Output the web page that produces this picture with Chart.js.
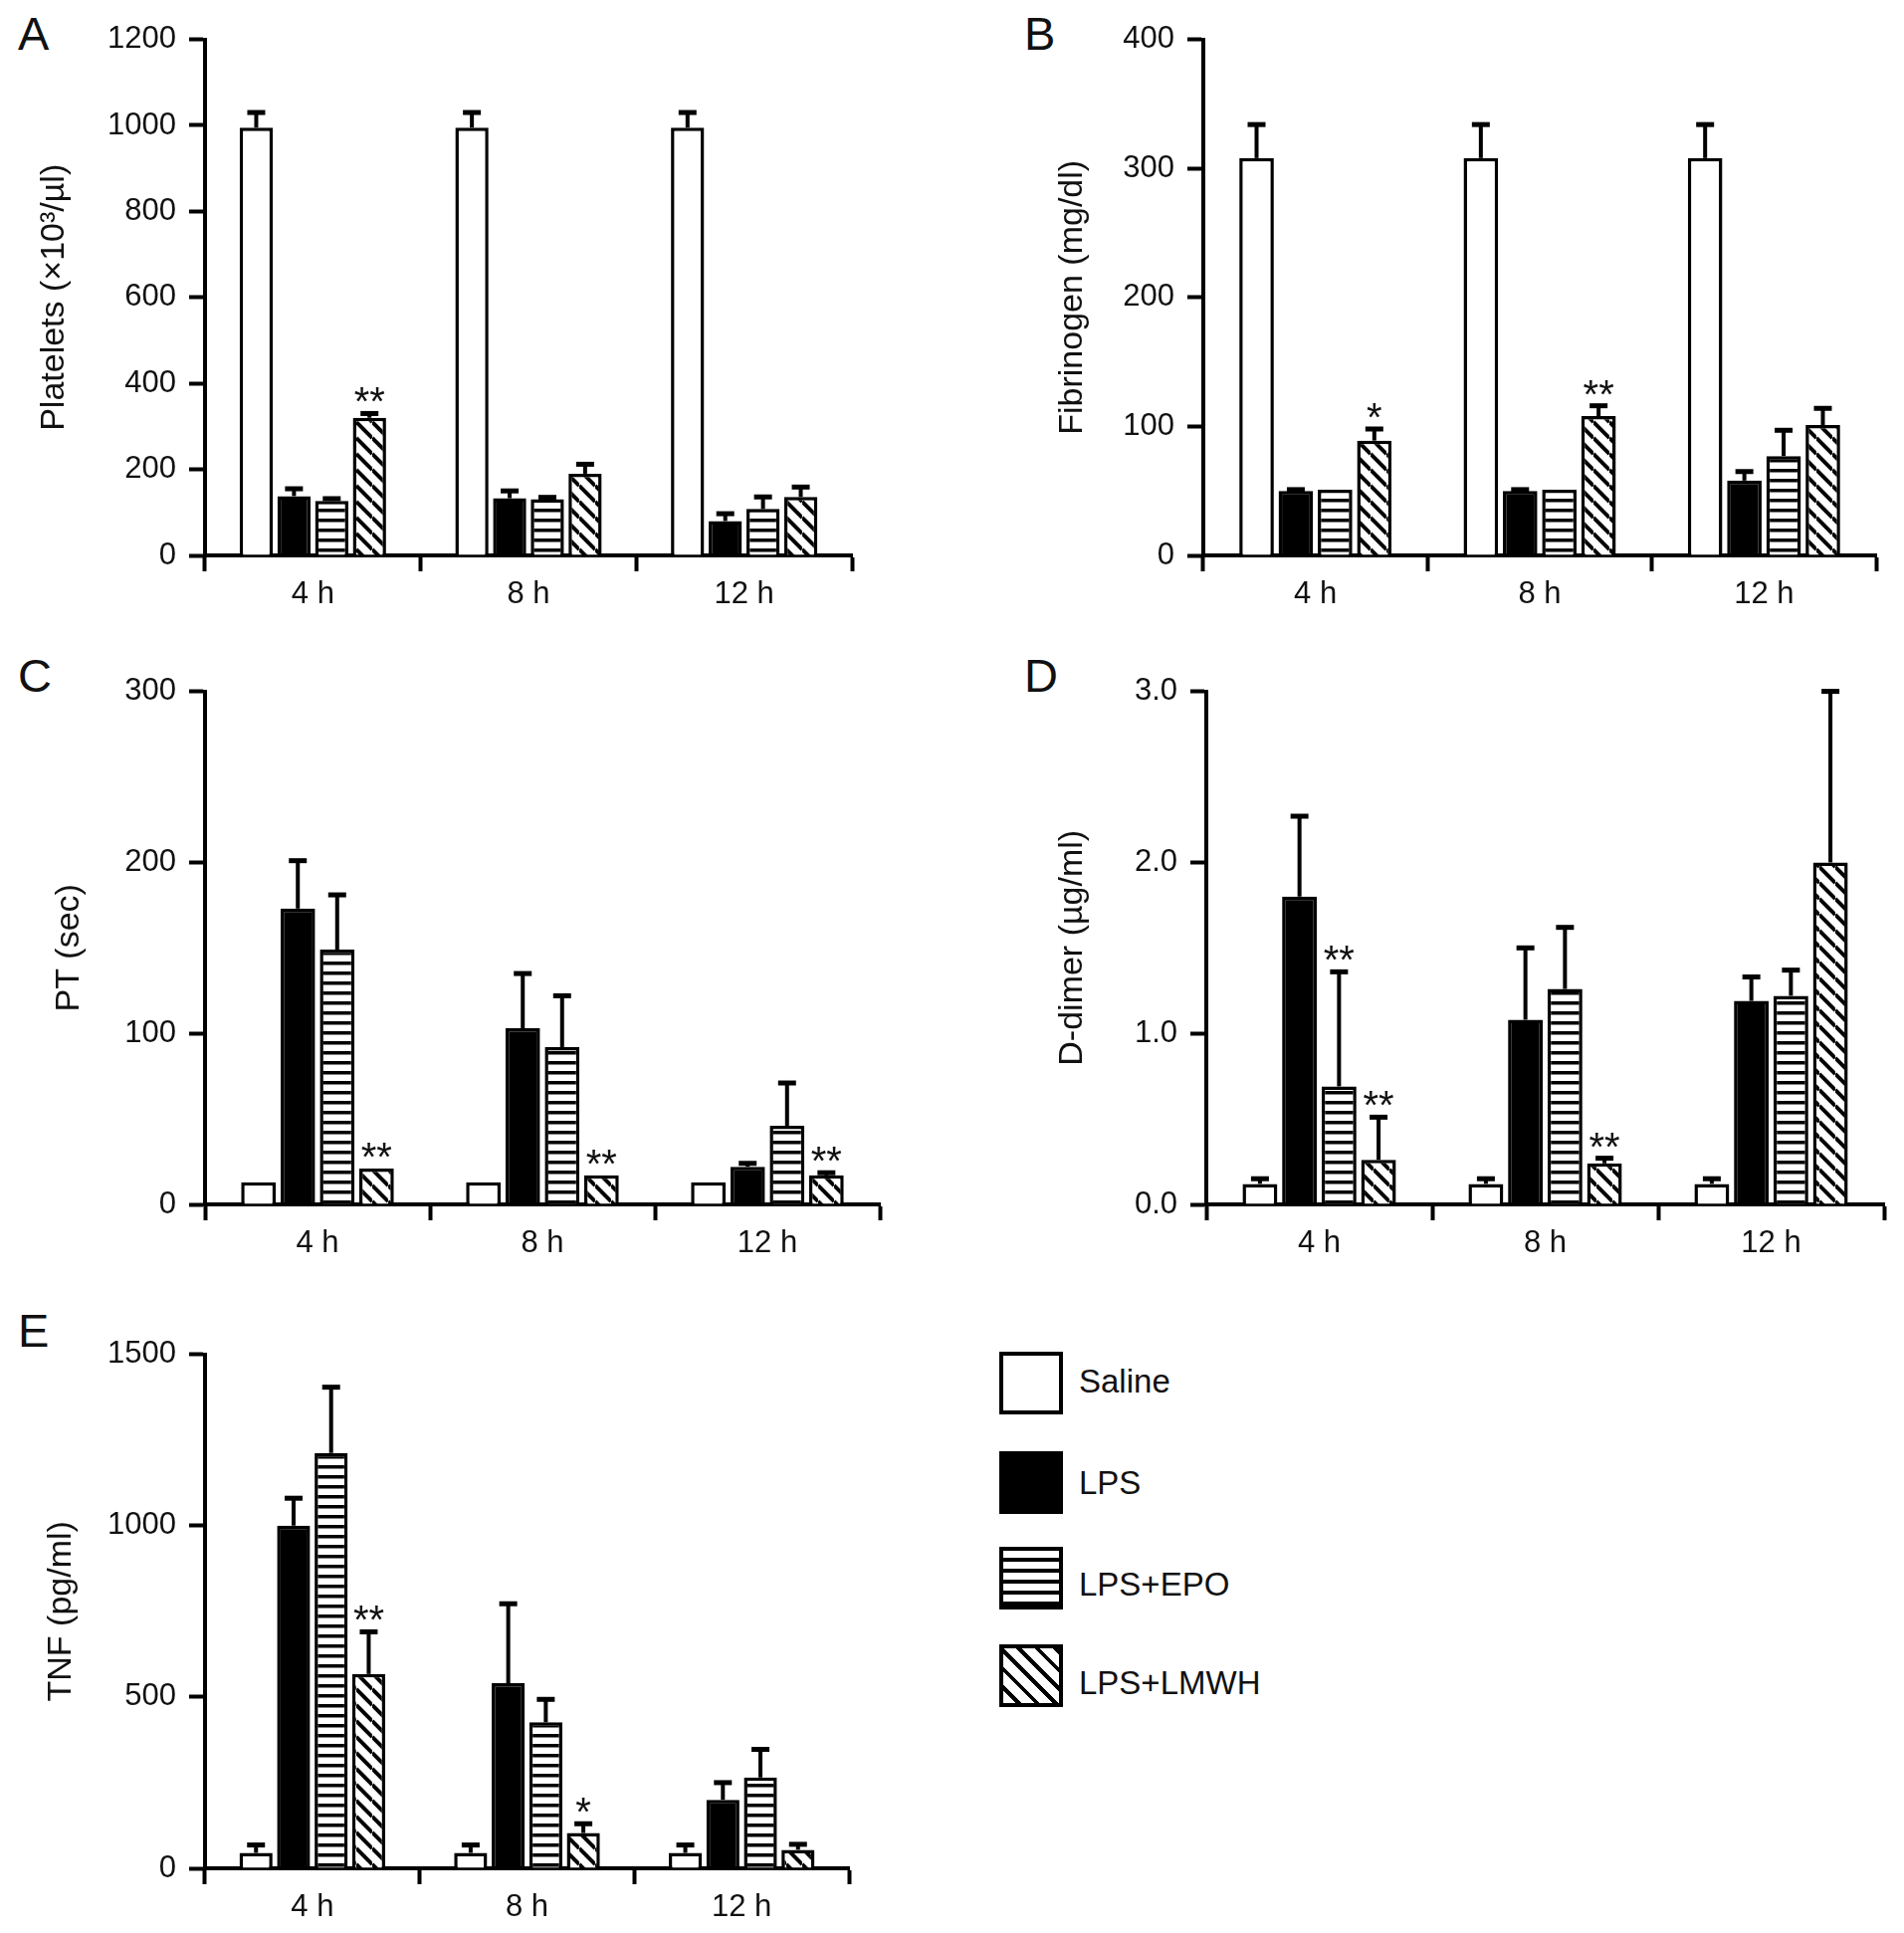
<!DOCTYPE html>
<html>
<head>
<meta charset="utf-8">
<script src="https://cdn.jsdelivr.net/npm/chart.js@4.4.0/dist/chart.umd.min.js"></script>
<style>
  body { margin: 0; background: #fff; width: 1913px; height: 1942px; position: relative; overflow: hidden;
         font-family: "Liberation Sans", Arial, sans-serif; color: #111; }
  canvas { position: absolute; }
  .letter { position: absolute; font-size: 47px; line-height: 1; }
  .lg-box { position: absolute; left: 1004px; width: 64px; height: 63px; box-sizing: border-box; border: 4px solid #000; }
  .lg-txt { position: absolute; left: 1084px; font-size: 33px; line-height: 38px; }
</style>
</head>
<body>
<div class="letter" style="left:18px;top:10px">A</div>
<div class="letter" style="left:1029px;top:10px">B</div>
<div class="letter" style="left:18px;top:655px">C</div>
<div class="letter" style="left:1029px;top:655px">D</div>
<div class="letter" style="left:18px;top:1313px">E</div>

<canvas id="chartA"></canvas>
<canvas id="chartB"></canvas>
<canvas id="chartC"></canvas>
<canvas id="chartD"></canvas>
<canvas id="chartE"></canvas>

<div class="lg-box" style="top:1358px;background:#fff"></div>
<div class="lg-txt" style="top:1369px">Saline</div>
<div class="lg-box" style="top:1458px;background:#000"></div>
<div class="lg-txt" style="top:1471px">LPS</div>
<div class="lg-box" style="top:1554px;background:repeating-linear-gradient(to bottom,#fff 0 7px,#000 7px 11px)"></div>
<div class="lg-txt" style="top:1573px">LPS+EPO</div>
<div class="lg-box" style="top:1652px;background:repeating-linear-gradient(45deg,#fff 0 9px,#000 9px 13px)"></div>
<div class="lg-txt" style="top:1672px">LPS+LMWH</div>

<script>
// categories and groups
var timePoints = ['4 h', '8 h', '12 h'];
var groupNames = ['Saline', 'LPS', 'LPS+EPO', 'LPS+LMWH'];

// A - platelets (x10^3/ul)
var platSaline = [995, 995, 995],  platSalineErr = [35, 35, 35];
var platLPS    = [138, 133, 80],   platLPSErr    = [17, 17, 17];
var platEPO    = [127, 131, 108],  platEPOErr    = [5, 4, 28];
var platLMWH   = [320, 190, 136],  platLMWHErr   = [10, 22, 23];
var platMarks  = [[3, 0, '**']];

// B - fibrinogen (mg/dl)
var fibSaline = [308, 308, 308], fibSalineErr = [26, 26, 26];
var fibLPS    = [50, 50, 58],    fibLPSErr    = [1, 1, 7];
var fibEPO    = [51, 51, 77],    fibEPOErr    = [0, 0, 20];
var fibLMWH   = [89, 108, 101],  fibLMWHErr   = [9, 8, 13];
var fibMarks  = [[3, 0, '*'], [3, 1, '**']];

// C - PT (sec)
var ptSaline = [13, 13, 13],   ptSalineErr = [0, 0, 0];
var ptLPS    = [173, 103, 22], ptLPSErr    = [28, 32, 2];
var ptEPO    = [149, 92, 46],  ptEPOErr    = [32, 30, 25];
var ptLMWH   = [21, 17, 17],   ptLMWHErr   = [0, 0, 1.5];
var ptMarks  = [[3, 0, '**'], [3, 1, '**'], [3, 2, '**']];

// D - D-dimer (ug/ml)
var ddSaline = [0.12, 0.12, 0.12], ddSalineErr = [0.03, 0.03, 0.03];
var ddLPS    = [1.80, 1.08, 1.19], ddLPSErr    = [0.47, 0.42, 0.14];
var ddEPO    = [0.69, 1.26, 1.22], ddEPOErr    = [0.67, 0.36, 0.15];
var ddLMWH   = [0.26, 0.24, 2.00], ddLMWHErr   = [0.25, 0.03, 1.00];
var ddMarks  = [[2, 0, '**'], [3, 0, '**'], [3, 1, '**']];

// E - TNF (pg/ml)
var tnfSaline = [45, 45, 45],     tnfSalineErr = [23, 23, 23];
var tnfLPS    = [1000, 540, 200], tnfLPSErr    = [80, 232, 50];
var tnfEPO    = [1212, 426, 265], tnfEPOErr    = [192, 67, 82];
var tnfLMWH   = [567, 103, 54],   tnfLMWHErr   = [123, 27, 16];
var tnfMarks  = [[3, 0, '**'], [3, 1, '*']];

Chart.defaults.font.family = '"Liberation Sans", Arial, sans-serif';
Chart.defaults.color = '#111';

var Y_W = 200, PAD_TOP = 25, PAD_RIGHT = 20, X_H = 70;
var TITLE_SIZE = 34;

// hatch fills
function stripePattern(ctx) {
    var c = document.createElement('canvas');
    c.width = 10; c.height = 10;
    var g = c.getContext('2d');
    g.fillStyle = '#fff'; g.fillRect(0, 0, 10, 10);
    g.fillStyle = '#000'; g.fillRect(0, 3, 10, 3.5);
    return ctx.createPattern(c, 'repeat');
}
function diagPattern(ctx) {
    var w = 16, h = 16;
    var c = document.createElement('canvas');
    c.width = w; c.height = h;
    var g = c.getContext('2d');
    g.fillStyle = '#fff'; g.fillRect(0, 0, w, h);
    g.strokeStyle = '#000'; g.lineWidth = 4;
    for (var k = -1; k <= 1; k++) {
        g.beginPath(); g.moveTo(0, k * h); g.lineTo(w, h + k * h); g.stroke();
    }
    return ctx.createPattern(c, 'repeat');
}

// error bars and significance stars
var errorBars = {
    id: 'errorBars',
    afterDatasetsDraw: function (chart) {
        var ctx = chart.ctx, y = chart.scales.y;
        chart.data.datasets.forEach(function (ds, i) {
            chart.getDatasetMeta(i).data.forEach(function (bar, j) {
                var v = ds.data[j], e = ds.errors[j], top = bar.y;
                ctx.save();
                ctx.strokeStyle = '#000';
                if (e > 0) {
                    var ye = y.getPixelForValue(v + e);
                    ctx.lineWidth = 4;
                    ctx.beginPath(); ctx.moveTo(bar.x, bar.y); ctx.lineTo(bar.x, ye); ctx.stroke();
                    ctx.lineWidth = 5;
                    ctx.beginPath(); ctx.moveTo(bar.x - 9, ye); ctx.lineTo(bar.x + 9, ye); ctx.stroke();
                    top = ye;
                }
                if (ds.marks[j]) {
                    ctx.fillStyle = '#111';
                    ctx.font = '40px "Liberation Sans", Arial, sans-serif';
                    ctx.textAlign = 'center';
                    ctx.textBaseline = 'alphabetic';
                    ctx.fillText(ds.marks[j], bar.x, top + 2);
                }
                ctx.restore();
            });
        });
    }
};

function makePanel(id, g, yTitle, yMax, yStep, series, errs, marks, decimals) {
    var cv = document.getElementById(id);
    var w = (g.right - g.axisX) + Y_W + PAD_RIGHT;
    var h = (g.zero - g.top) + PAD_TOP + X_H;
    cv.width = w; cv.height = h;
    cv.style.width = w + 'px'; cv.style.height = h + 'px';
    cv.style.left = (g.axisX - Y_W) + 'px';
    cv.style.top = (g.top - PAD_TOP) + 'px';
    var ctx = cv.getContext('2d');
    var fills = ['#fff', '#000', stripePattern(ctx), diagPattern(ctx)];

    var datasets = series.map(function (d, i) {
        var m = ['', '', ''];
        marks.forEach(function (mk) { if (mk[0] === i) m[mk[1]] = mk[2]; });
        return {
            label: groupNames[i],
            data: d,
            errors: errs[i],
            marks: m,
            backgroundColor: fills[i],
            borderColor: '#000',
            borderWidth: 3.5,
            categoryPercentage: 0.70,
            barPercentage: 0.88
        };
    });

    new Chart(ctx, {
        type: 'bar',
        data: { labels: timePoints, datasets: datasets },
        plugins: [errorBars],
        options: {
            responsive: false,
            animation: false,
            devicePixelRatio: 1,
            layout: { padding: { top: PAD_TOP, right: PAD_RIGHT, left: 0, bottom: 0 } },
            plugins: { legend: { display: false }, tooltip: { enabled: false } },
            scales: {
                x: {
                    type: 'category',
                    offset: true,
                    afterFit: function (s) { s.height = X_H; },
                    border: { color: '#000', width: 4 },
                    grid: { offset: true, drawOnChartArea: false, drawTicks: true, tickLength: 16, tickWidth: 4, color: '#000' },
                    ticks: { font: { size: 31 }, padding: 5, color: '#111' }
                },
                y: {
                    min: 0, max: yMax,
                    afterFit: function (s) { s.width = Y_W; },
                    border: { color: '#000', width: 4 },
                    grid: { drawOnChartArea: false, drawTicks: true, tickLength: 16, tickWidth: 4, color: '#000' },
                    ticks: {
                        stepSize: yStep, font: { size: 31 }, padding: 13, color: '#111',
                        callback: function (v) { return decimals ? v.toFixed(decimals) : v; }
                    },
                    title: { display: true, text: yTitle, font: { size: TITLE_SIZE }, color: '#111',
                             padding: { top: g.titleX - (g.axisX - Y_W) - TITLE_SIZE * 0.6, bottom: 0 } }
                }
            }
        }
    });
}

makePanel('chartA', { axisX: 206, top: 33, zero: 558, right: 856, titleX: 55 },
    'Platelets (\u00d710\u00b3/\u00b5l)', 1200, 200,
    [platSaline, platLPS, platEPO, platLMWH],
    [platSalineErr, platLPSErr, platEPOErr, platLMWHErr], platMarks, 0);

makePanel('chartB', { axisX: 1209, top: 33, zero: 558, right: 1885, titleX: 1078 },
    'Fibrinogen (mg/dl)', 400, 100,
    [fibSaline, fibLPS, fibEPO, fibLMWH],
    [fibSalineErr, fibLPSErr, fibEPOErr, fibLMWHErr], fibMarks, 0);

makePanel('chartC', { axisX: 206, top: 688, zero: 1210, right: 884, titleX: 70 },
    'PT (sec)', 300, 100,
    [ptSaline, ptLPS, ptEPO, ptLMWH],
    [ptSalineErr, ptLPSErr, ptEPOErr, ptLMWHErr], ptMarks, 0);

makePanel('chartD', { axisX: 1212, top: 688, zero: 1210, right: 1893, titleX: 1078 },
    'D-dimer (\u00b5g/ml)', 3, 1,
    [ddSaline, ddLPS, ddEPO, ddLMWH],
    [ddSalineErr, ddLPSErr, ddEPOErr, ddLMWHErr], ddMarks, 1);

makePanel('chartE', { axisX: 206, top: 1354, zero: 1877, right: 853, titleX: 62 },
    'TNF (pg/ml)', 1500, 500,
    [tnfSaline, tnfLPS, tnfEPO, tnfLMWH],
    [tnfSalineErr, tnfLPSErr, tnfEPOErr, tnfLMWHErr], tnfMarks, 0);
</script>
</body>
</html>
